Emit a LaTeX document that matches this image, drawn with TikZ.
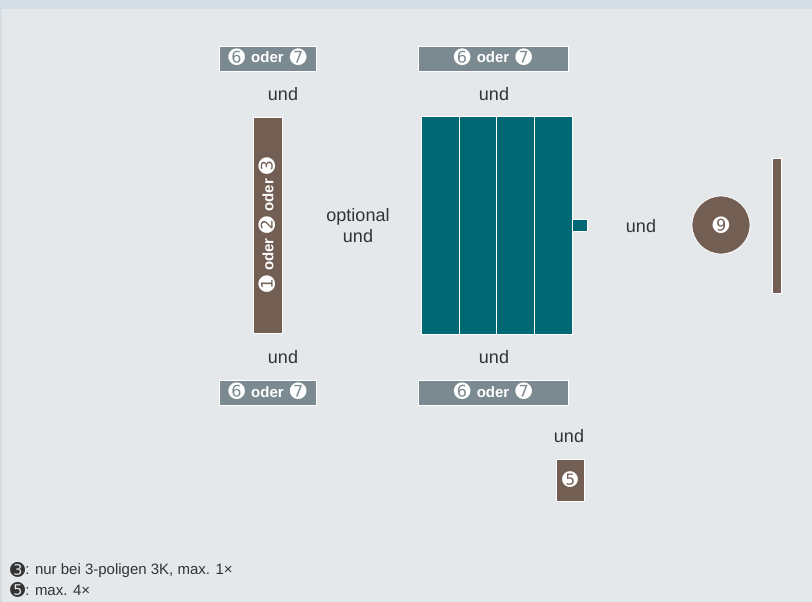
\documentclass[tikz,border=0pt]{standalone}
\usepackage{fontspec}
\setmainfont{Liberation Sans}
\newfontfamily\dejavu{DejaVu Sans}
\definecolor{bgc}{HTML}{E4E8EB}
\definecolor{band}{HTML}{D5DDE4}
\definecolor{boxgray}{HTML}{7A8A90}
\definecolor{brn}{HTML}{735E54}
\definecolor{tealc}{HTML}{006873}
\definecolor{txt}{HTML}{333333}
\definecolor{faint}{HTML}{E8EBED}
\newcommand{\dg}[2]{\raisebox{-0.1em}{\dejavu\fontsize{#1}{#1}\selectfont #2}}
\newcommand{\sixseven}{\dg{20}{➏}\hspace{6pt}oder\hspace{6pt}\dg{20}{➐}}
\begin{document}
\begin{tikzpicture}[x=1pt,y=-1pt,
  lbl/.style={font=\fontsize{18}{21}\selectfont, text=txt, align=center, inner sep=0pt},
  grbox/.style={fill=boxgray, draw=white, line width=0.8pt, text=white,
     font=\fontsize{15}{16}\selectfont\bfseries, inner sep=0pt, minimum height=25pt, text height=11pt, text depth=2pt},
  brbox/.style={fill=brn, draw=white, line width=0.8pt, inner sep=0pt},
  tlbox/.style={fill=tealc, draw=white, line width=0.8pt, inner sep=0pt, minimum height=218pt},
  foot/.style={font=\fontsize{15}{17}\selectfont, text=txt, anchor=west, inner sep=0pt}]
\fill[bgc] (0,0) rectangle (812,602);
\fill[band] (0,0) rectangle (812,9);
\fill[band] (0,0) rectangle (2,602);
\useasboundingbox (0,0) rectangle (812,602);
\draw[faint, line width=0.6pt] (615,108) rectangle (786,343);

% top boxes
\node[grbox, minimum width=97pt] (tl) at (267.5,58.5) {\sixseven};
\node[grbox, minimum width=150pt] (tr) at (493,58.5) {\sixseven};
\node[lbl] (u1) at (283,94) {und};
\node[lbl] (u2) at (494,94) {und};

% left brown bar
\node[brbox, minimum width=29pt, minimum height=216pt] (bar) at (267.5,225) {};
\node[rotate=90, text=white, font=\fontsize{15}{16}\selectfont\bfseries, inner sep=0pt] (bart) at (bar.center) {\dg{20}{➊}\hspace{5pt}oder\hspace{5pt}\dg{20}{➋}\hspace{5pt}oder\hspace{5pt}\dg{20}{➌}};

\node[lbl] (opt) at (358,226) {optional\\und};

% teal block
\draw[fill=tealc, draw=white, line width=0.8pt] (571,219.5) rectangle (587,231);
\node[tlbox, minimum width=38pt] (c1) at (440,225) {};
\node[tlbox, minimum width=37pt] (c2) at (477.5,225) {};
\node[tlbox, minimum width=38pt] (c3) at (515,225) {};
\node[tlbox, minimum width=38pt] (c4) at (553,225) {};

\node[lbl] (u3) at (641,226) {und};
\node[circle, fill=brn, draw=white, line width=0.8pt, minimum size=58pt, inner sep=0pt,
      text=white] (c9) at (721,225) {\dg{20}{➒}};
\node[brbox, minimum width=9pt, minimum height=135pt] (thin) at (776.5,225.5) {};

% bottom
\node[lbl] (u4) at (283,357) {und};
\node[lbl] (u5) at (494,357) {und};
\node[grbox, minimum width=97pt] (bl) at (267.5,392.5) {\sixseven};
\node[grbox, minimum width=150pt] (br) at (493,392.5) {\sixseven};
\node[lbl] (u6) at (569,436) {und};
\node[brbox, minimum width=28pt, minimum height=42pt, text=white] (b5) at (570,480) {\dg{19}{➎}};

% footnotes
\node[foot] (f1) at (10,570) {\dg{18}{➌}: nur bei 3-poligen 3K, max. 1×};
\node[foot] (f2) at (10,590) {\dg{18}{➎}: max. 4×};
\end{tikzpicture}
\end{document}
